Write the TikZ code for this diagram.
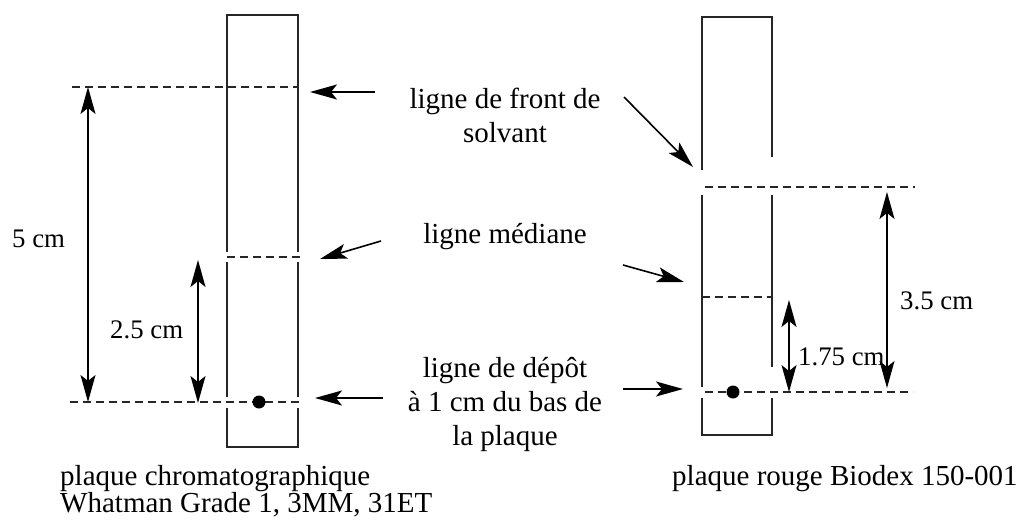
\documentclass[tikz,border=0pt]{standalone}
\usepackage{fontspec}
\setmainfont{Liberation Serif}
\usetikzlibrary{arrows.meta}
\begin{document}
\begin{tikzpicture}[x=1pt,y=-1pt,
  plate/.style={line width=1.2pt, draw=black!85},
  guide/.style={line width=1.2pt, draw=black!85, dash pattern=on 8pt off 5pt},
  bighead/.style={Stealth[length=27pt,width=15pt,inset=6pt]},
  pointer/.style={line width=1.6pt, -{Stealth[length=27pt,width=15pt,inset=6pt]}},
  dimarrow/.style={line width=1.3pt, {Stealth[length=27pt,width=15pt,inset=6pt]}-{Stealth[length=27pt,width=15pt,inset=6pt]}},
  lbl/.style={font=\fontsize{29}{34}\selectfont, align=center, inner sep=0pt},
  captxt/.style={font=\fontsize{29}{27}\selectfont, align=left, inner sep=0pt},
  dimlbl/.style={font=\fontsize{26.8}{30}\selectfont, inner sep=0pt, anchor=base west},
  spot/.style={circle, fill=black, inner sep=0pt, minimum size=13pt}
]
\useasboundingbox (0,0) rectangle (1021,522);

% ---------- left plate ----------
\draw[plate] (227,252) -- (227,15) -- (298,15) -- (298,252);
\draw[plate] (227,262) -- (227,397);
\draw[plate] (298,262) -- (298,397);
\draw[plate] (227,408) -- (227,447) -- (298,447) -- (298,408);
\draw[guide] (72,87) -- (298,87);
\draw[guide] (227,257) -- (300,257);
\draw[guide] (70,402) -- (300,402);
\node[spot] (dotL) at (259,402) {};

% dimensions left
\coordinate (fiveTop) at (88,87);
\coordinate (fiveBot) at (88,402);
\draw[dimarrow] (fiveTop) -- (fiveBot);
\node[dimlbl] (fiveLbl) at (12,247) {5 cm};
\coordinate (halfTop) at (198,260);
\coordinate (halfBot) at (198,403);
\draw[dimarrow] (halfTop) -- (halfBot);
\node[dimlbl] (halfLbl) at (110,338) {2.5 cm};

% ---------- right plate ----------
\draw[plate] (702,170) -- (702,17) -- (772,17) -- (772,157);
\draw[plate] (702,195) -- (702,387);
\draw[plate] (772,195) -- (772,367);
\draw[plate] (702,398) -- (702,435) -- (772,435) -- (772,398);
\draw[guide] (705,187) -- (915,187);
\draw[guide] (702,297) -- (772,297);
\draw[guide] (705,392) -- (913,392);
\node[spot] (dotR) at (733,392) {};

% dimensions right
\coordinate (rAtop) at (789,300);
\coordinate (rAbot) at (789,392);
\draw[dimarrow] (rAtop) -- (rAbot);
\node[dimlbl] (rALbl) at (798,365) {1.75 cm};
\coordinate (rBtop) at (887,192);
\coordinate (rBbot) at (887,388);
\draw[dimarrow] (rBtop) -- (rBbot);
\node[dimlbl] (rBLbl) at (900,309) {3.5 cm};

% ---------- middle labels (anchor = baseline of last line) ----------
\node[lbl, anchor=base] (front) at (505,142) {ligne de front de\\solvant};
\node[lbl, anchor=base] (median) at (505,243) {ligne médiane};
\node[lbl, anchor=base] (depot) at (505,445) {ligne de dépôt\\à 1 cm du bas de\\la plaque};

% pointer ends
\coordinate (fL0) at (375,92);  \coordinate (fL1) at (310,92);
\coordinate (mL0) at (381,241); \coordinate (mL1) at (320,259);
\coordinate (dL0) at (383,398); \coordinate (dL1) at (315,398);
\coordinate (fR0) at (624,97);  \coordinate (fR1) at (693,167);
\coordinate (mR0) at (623,265); \coordinate (mR1) at (684,282);
\coordinate (dR0) at (623,389); \coordinate (dR1) at (683,389);
\draw[pointer] (fL0) -- (fL1);
\draw[pointer] (mL0) -- (mL1);
\draw[pointer] (dL0) -- (dL1);
\draw[pointer] (fR0) -- (fR1);
\draw[pointer] (mR0) -- (mR1);
\draw[pointer] (dR0) -- (dR1);

% ---------- captions ----------
\node[captxt, anchor=base west] (capL) at (60,512) {plaque chromatographique\\Whatman Grade 1, 3MM, 31ET};
\node[captxt, anchor=base west] (capR) at (672,485) {plaque rouge Biodex 150-001};
\end{tikzpicture}
\end{document}
